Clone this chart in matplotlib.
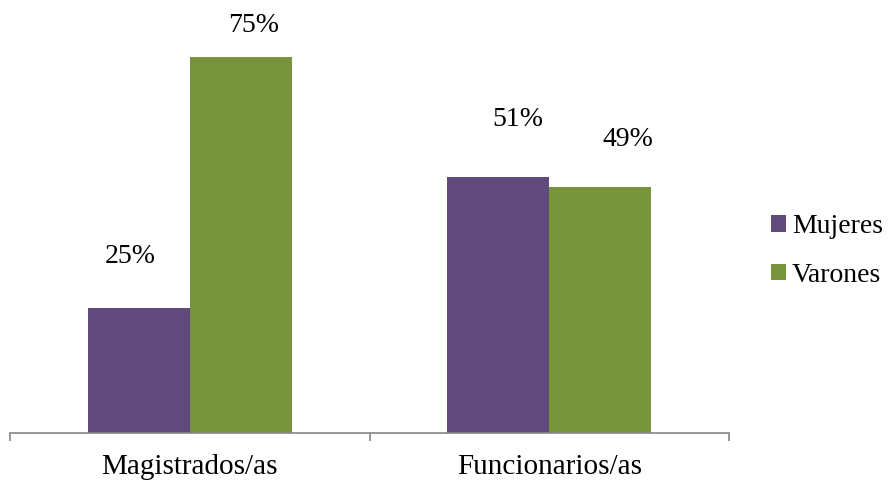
import matplotlib.pyplot as plt
import numpy as np

categories = ["Magistrados/as", "Funcionarios/as"]
series_names = ["Mujeres", "Varones"]
mujeres = [25, 51]
varones = [75, 49]

colors = ["#604A7B", "#77933C"]
# hand-placed label offsets in pixels (dx, dy above bar top), like the original
label_offsets = [[(-8, 51), (13, 32)], [(20, 58), (28, 48)]]

plt.rcParams['font.family'] = ['Liberation Serif', 'DejaVu Serif']

fig = plt.figure(figsize=(8.88, 4.82), dpi=100)
ax = fig.add_axes([10 / 888, 1 - 433 / 482, 719 / 888, (433 - 32) / 482])

x = np.arange(len(categories))
width = 0.284

bars_m = ax.bar(x - width / 2, mujeres, width, color=colors[0], label=series_names[0])
bars_v = ax.bar(x + width / 2, varones, width, color=colors[1], label=series_names[1])

# value labels
for s, bars in enumerate([bars_m, bars_v]):
    for i, b in enumerate(bars):
        dx, dy = label_offsets[i][s]
        ax.annotate(f"{int(b.get_height())}%",
                    (b.get_x() + b.get_width() / 2, b.get_height()),
                    xytext=(dx, dy), textcoords='offset pixels',
                    ha='center', va='center', fontsize=20)

ax.set_xlim(-0.5, 1.5)
ax.set_ylim(0, 80)

for side in ['top', 'right', 'left']:
    ax.spines[side].set_visible(False)
ax.spines['bottom'].set_color('#868686')
ax.spines['bottom'].set_linewidth(1.2)

ax.set_yticks([])
ax.set_xticks([-0.5, 0.5, 1.5])
ax.set_xticklabels([])
ax.set_xticks(x, minor=True)
ax.set_xticklabels(categories, minor=True, fontsize=21)
ax.tick_params(axis='x', which='major', direction='out', length=6, width=1.2, color='#868686')
ax.tick_params(axis='x', which='minor', length=0, pad=15)

leg = fig.legend(loc='center left', bbox_to_anchor=(771 / 888, 1 - 251 / 482),
                 frameon=False, fontsize=20, handlelength=0.55, handleheight=0.55,
                 handletextpad=0.2, labelspacing=0.85, borderpad=0, borderaxespad=0)

fig.savefig("out.png", dpi=100)
